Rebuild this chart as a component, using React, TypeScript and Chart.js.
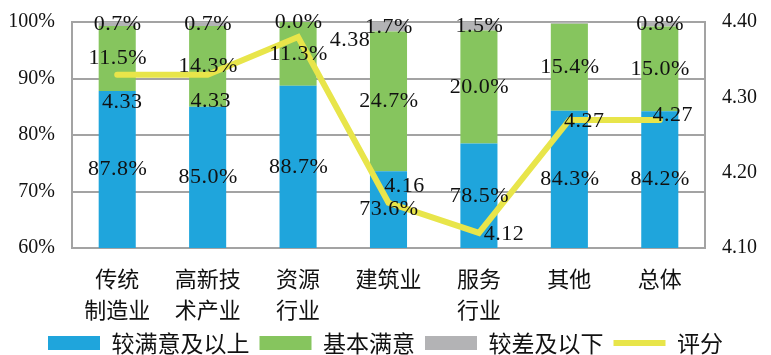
import React, { useEffect, useRef } from 'react';
import { Chart, registerables } from 'chart.js';

Chart.register(...registerables);

// ---- data ----
const categories: string[][] = [
  ['传统', '制造业'],
  ['高新技', '术产业'],
  ['资源', '行业'],
  ['建筑业'],
  ['服务', '行业'],
  ['其他'],
  ['总体'],
];
const highSatisfied = [87.8, 85.0, 88.7, 73.6, 78.5, 84.3, 84.2];
const basicSatisfied = [11.5, 14.3, 11.3, 24.7, 20.0, 15.4, 15.0];
const lowSatisfied = [0.7, 0.7, 0.0, 1.7, 1.5, 0.3, 0.8];
const lowLabelShown = [true, true, true, true, true, false, true];
const scores = [4.33, 4.33, 4.38, 4.16, 4.12, 4.27, 4.27];
const seriesNames = ['较满意及以上', '基本满意', '较差及以下', '评分'];
const leftTickValues = [60, 70, 80, 90, 100];
const rightTickValues = [4.1, 4.2, 4.3, 4.4];

// ---- style ----
const W = 771;
const H = 355;
const COLORS = {
  high: '#1FA5DC',
  basic: '#86C55E',
  low: '#B3B3B5',
  score: '#E8E54A',
  grid: '#A3A3A3',
  text: '#111111',
};
const NUM_FONT = "'Liberation Serif', 'Noto Sans CJK SC', serif";
const CJK_FONT = "'Noto Sans CJK SC', 'Liberation Serif', sans-serif";
const PLOT_LEFT = 72;
const PLOT_RIGHT = 705;
const PLOT_TOP = 22;
const PLOT_BOTTOM = 248;
const PAD_BOTTOM = -9.5;
// label offsets for score labels (dx, dy) relative to the point
const scoreLabelOffsets: [number, number][] = [
  [5, 27],
  [3, 26],
  [52, 3],
  [16, -17],
  [25, 1],
  [15, 1],
  [13, -5],
];

const labelPlugin = {
  id: 'valueLabels',
  afterDatasetsDraw(chart: any) {
    const ctx = chart.ctx as CanvasRenderingContext2D;
    const area = chart.chartArea;
    ctx.save();
    ctx.font = `22px ${NUM_FONT}`;
    (ctx as any).letterSpacing = '0.5px';
    ctx.fillStyle = COLORS.text;
    ctx.textAlign = 'center';
    ctx.textBaseline = 'middle';
    const barSets = [
      { idx: 1, values: highSatisfied, shown: highSatisfied.map(() => true) },
      { idx: 2, values: basicSatisfied, shown: basicSatisfied.map(() => true) },
      { idx: 3, values: lowSatisfied, shown: lowLabelShown },
    ];
    barSets.forEach(({ idx, values, shown }) => {
      const meta = chart.getDatasetMeta(idx);
      meta.data.forEach((el: any, i: number) => {
        if (!shown[i]) return;
        const top = Math.max(Math.min(el.y, el.base), area.top);
        const bottom = Math.min(Math.max(el.y, el.base), area.bottom);
        const cy = (top + bottom) / 2;
        ctx.fillText(values[i].toFixed(1) + '%', el.x + 0.5, cy);
      });
    });
    const lineMeta = chart.getDatasetMeta(0);
    lineMeta.data.forEach((pt: any, i: number) => {
      const [dx, dy] = scoreLabelOffsets[i];
      ctx.fillText(scores[i].toFixed(2), pt.x + dx, pt.y + dy);
    });
    ctx.restore();
  },
};

export default function App() {
  const ref = useRef<HTMLCanvasElement | null>(null);

  useEffect(() => {
    document.body.style.margin = '0';
    const canvas = ref.current;
    if (!canvas) return;
    const chart = new Chart(canvas, {
      type: 'bar',
      data: {
        labels: categories as any,
        datasets: [
          {
            type: 'line',
            label: seriesNames[3],
            data: scores,
            yAxisID: 'y1',
            borderColor: COLORS.score,
            backgroundColor: COLORS.score,
            borderWidth: 6,
            borderCapStyle: 'round',
            borderJoinStyle: 'miter',
            pointRadius: 0,
            pointHoverRadius: 0,
            pointStyle: 'line',
            tension: 0,
            fill: false,
          } as any,
          {
            type: 'bar',
            label: seriesNames[0],
            data: highSatisfied,
            yAxisID: 'y',
            backgroundColor: COLORS.high,
            borderWidth: 0,
            pointStyle: 'rect',
          } as any,
          {
            type: 'bar',
            label: seriesNames[1],
            data: basicSatisfied,
            yAxisID: 'y',
            backgroundColor: COLORS.basic,
            borderWidth: 0,
            pointStyle: 'rect',
          } as any,
          {
            type: 'bar',
            label: seriesNames[2],
            data: lowSatisfied,
            yAxisID: 'y',
            backgroundColor: COLORS.low,
            borderWidth: 0,
            pointStyle: 'rect',
          } as any,
        ],
      },
      options: {
        responsive: false,
        animation: false,
        layout: { padding: { top: PLOT_TOP, left: 0, right: 0, bottom: PAD_BOTTOM } },
        datasets: {
          bar: { categoryPercentage: 1, barPercentage: 0.41 },
        } as any,
        plugins: {
          tooltip: { enabled: false },
          legend: {
            position: 'bottom',
            labels: {
              usePointStyle: true,
              pointStyleWidth: 52,
              boxHeight: 14,
              padding: 10,
              color: COLORS.text,
              font: { size: 23, family: CJK_FONT },
              sort: (a: any, b: any) => {
                const r = (d: number) => (d === 0 ? 99 : d);
                return r(a.datasetIndex) - r(b.datasetIndex);
              },
            },
          },
        },
        scales: {
          x: {
            stacked: true,
            grid: { display: true, drawOnChartArea: false, drawTicks: false },
            border: { display: true, color: COLORS.grid, width: 2 },
            ticks: {
              color: COLORS.text,
              padding: 15,
              maxRotation: 0,
              autoSkip: false,
              font: { size: 22, family: CJK_FONT, lineHeight: 1.4 },
            },
            afterFit: (s: any) => {
              const legendH = s.chart.legend ? s.chart.legend.height : 0;
              s.height = H - PAD_BOTTOM - PLOT_BOTTOM - legendH;
            },
          },
          y: {
            stacked: true,
            position: 'left',
            min: leftTickValues[0],
            max: leftTickValues[leftTickValues.length - 1],
            afterBuildTicks: (s: any) => {
              s.ticks = leftTickValues.map((v) => ({ value: v }));
            },
            grid: { color: COLORS.grid, lineWidth: 2, drawTicks: false },
            border: { display: true, color: COLORS.grid, width: 2 },
            ticks: {
              color: COLORS.text,
              padding: 17,
              font: { size: 20, family: NUM_FONT },
              callback: (v: any) => `${v}%`,
            },
            afterFit: (s: any) => {
              s.width = PLOT_LEFT;
              s.paddingTop = 0;
              s.paddingBottom = 0;
            },
          },
          y1: {
            position: 'right',
            min: rightTickValues[0],
            max: rightTickValues[rightTickValues.length - 1],
            afterBuildTicks: (s: any) => {
              s.ticks = rightTickValues.map((v) => ({ value: v }));
            },
            grid: { drawOnChartArea: false, drawTicks: false },
            border: { display: true, color: COLORS.grid, width: 2 },
            ticks: {
              color: COLORS.text,
              padding: 17,
              font: { size: 20, family: NUM_FONT },
              callback: (v: any) => Number(v).toFixed(2),
            },
            afterFit: (s: any) => {
              s.width = W - PLOT_RIGHT;
              s.paddingTop = 0;
              s.paddingBottom = 0;
            },
          },
        },
      } as any,
      plugins: [labelPlugin],
    });
    return () => chart.destroy();
  }, []);

  return <canvas ref={ref} width={W} height={H} style={{ display: 'block' }} />;
}
